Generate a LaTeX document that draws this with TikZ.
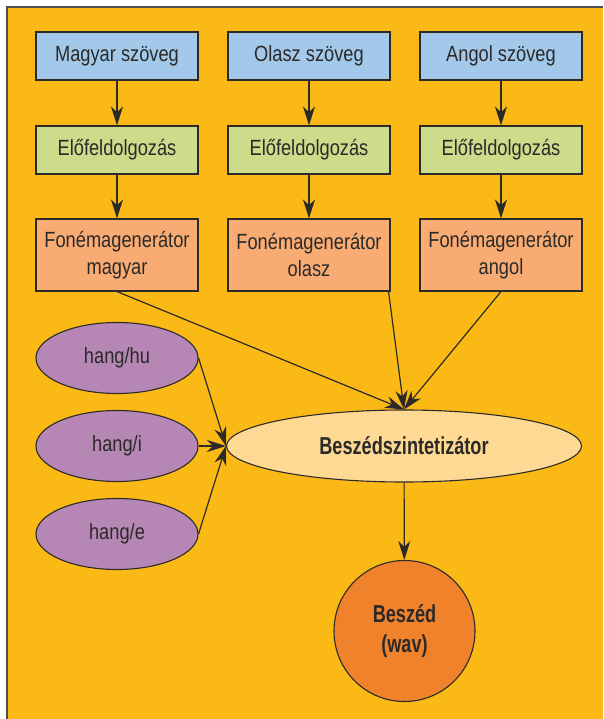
\documentclass[tikz,border=0pt]{standalone}
\usepackage{fontspec}
\setmainfont{Liberation Sans}[FakeStretch=0.83]
\newfontfamily\vastag{Liberation Sans}[FakeStretch=0.74]
\usepackage{tikz}
\usetikzlibrary{arrows.meta,shapes.geometric}

\definecolor{hatter}{HTML}{FBB915}
\definecolor{keret}{HTML}{4D4D4F}
\definecolor{szovegkek}{HTML}{A3C9EA}
\definecolor{elozold}{HTML}{CCDC8A}
\definecolor{fonlazac}{HTML}{F8AC73}
\definecolor{hanglila}{HTML}{B687B5}
\definecolor{szintsarga}{HTML}{FDD993}
\definecolor{wavnarancs}{HTML}{F0822C}
\definecolor{betu}{HTML}{2B2A29}

\tikzset{
  doboz/.style={draw=betu,line width=1.1pt,rectangle,minimum width=162pt,
    text=betu,font=\fontsize{22}{27}\selectfont,align=center,inner sep=0pt},
  hangell/.style={draw=betu,line width=1.1pt,ellipse,fill=hanglila,minimum width=162pt,
    minimum height=71pt,inner sep=0pt,text=betu,font=\fontsize{22}{27}\selectfont},
  nyil/.style={draw=betu,line width=1.2pt,-{Stealth[length=19pt,width=12pt,inset=6pt]}}
}

\begin{document}
\begin{tikzpicture}[x=1pt,y=-1pt]
\useasboundingbox (0,0) rectangle (603,719);
\fill[hatter] (7,7) rectangle (603,719);
\draw[keret,line width=1.2pt] (7,719) -- (7,7) -- (603,7);

% szoveg sor
\node[doboz,fill=szovegkek,minimum height=48pt] (magyar) at (117,56) {Magyar szöveg};
\node[doboz,fill=szovegkek,minimum height=48pt] (olasz) at (309,56) {Olasz szöveg};
\node[doboz,fill=szovegkek,minimum height=48pt] (angol) at (501,56) {Angol szöveg};

% elofeldolgozas sor
\node[doboz,fill=elozold,minimum height=48pt] (elo1) at (117,150) {Előfeldolgozás};
\node[doboz,fill=elozold,minimum height=48pt] (elo2) at (309,150) {Előfeldolgozás};
\node[doboz,fill=elozold,minimum height=48pt] (elo3) at (501,150) {Előfeldolgozás};

% fonemagenerator sor
\node[doboz,fill=fonlazac,minimum height=72pt] (fon1) at (117,255) {Fonémagenerátor\\magyar};
\node[doboz,fill=fonlazac,minimum height=72pt] (fon2) at (309,255) {Fonémagenerátor\\olasz};
\node[doboz,fill=fonlazac,minimum height=72pt] (fon3) at (501,255) {Fonémagenerátor\\angol};

% hangok
\node[hangell] (hu) at (117,358) {hang/hu};
\node[hangell] (hi) at (117,446) {hang/i};
\node[hangell] (he) at (117,534) {hang/e};

\node[draw=betu,line width=1.1pt,ellipse,fill=szintsarga,minimum width=355pt,minimum height=72pt,
  inner sep=0pt,text=betu,font=\fontsize{24.5}{30}\vastag\bfseries] (szint) at (404,446) {Beszédszintetizátor};
\node[draw=betu,line width=1.1pt,circle,fill=wavnarancs,minimum size=141pt,inner sep=0pt,
  text=betu,align=center,font=\fontsize{24.5}{30}\vastag\bfseries] (wav) at (404.5,631) {Beszéd\\(wav)};

\draw[nyil] (magyar) -- (elo1);
\draw[nyil] (olasz) -- (elo2);
\draw[nyil] (angol) -- (elo3);
\draw[nyil] (elo1) -- (fon1);
\draw[nyil] (elo2) -- (fon2);
\draw[nyil] (elo3) -- (fon3);

\draw[nyil] (fon1.south) -- (szint.north);
\draw[nyil] ([xshift=-2pt]fon2.south east) -- (szint.north);
\draw[nyil] (fon3.south) -- (szint.north);

\draw[nyil] (hu.east) -- (szint.west);
\draw[nyil] (hi.east) -- (szint.west);
\draw[nyil] (he.east) -- (szint.west);

\draw[nyil] (szint) -- (wav);

\end{tikzpicture}
\end{document}
